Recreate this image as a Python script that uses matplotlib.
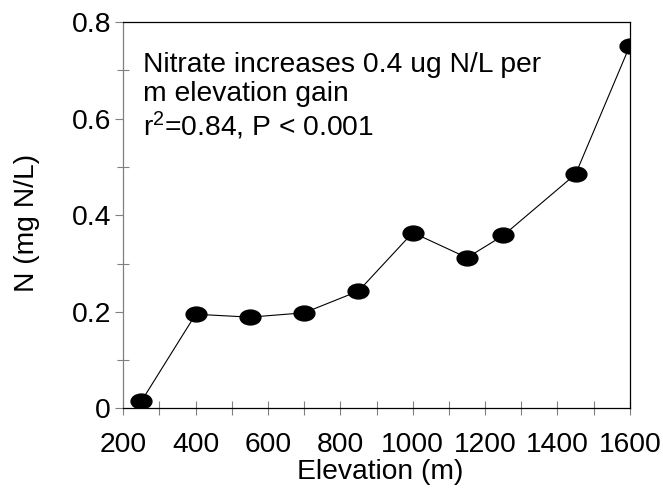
import numpy as np
import matplotlib
matplotlib.use("Agg")
import matplotlib.pyplot as plt
from matplotlib.path import Path
from matplotlib.transforms import Affine2D
from matplotlib.ticker import MultipleLocator

# nitrate along the elevation gradient
elevation = [250, 400, 550, 700, 850, 1000, 1150, 1250, 1450, 1600]
nitrate = [0.015, 0.195, 0.189, 0.198, 0.243, 0.364, 0.312, 0.358, 0.485, 0.751]

x_ticks = [200, 400, 600, 800, 1000, 1200, 1400, 1600]
y_ticks = [0, 0.2, 0.4, 0.6, 0.8]
y_tick_labels = ["0", "0.2", "0.4", "0.6", "0.8"]

note = "Nitrate increases 0.4 ug N/L per\nm elevation gain\nr$^2$=0.84, P < 0.001"

plt.rcParams['font.family'] = ['Liberation Sans', 'DejaVu Sans']
plt.rcParams['mathtext.fontset'] = 'custom'
plt.rcParams['mathtext.rm'] = 'Liberation Sans'
plt.rcParams['mathtext.it'] = 'Liberation Sans'

# flattened dot, a bit wider than tall
oval = Path.unit_circle().transformed(Affine2D().scale(1.4, 1.0))

fig = plt.figure(figsize=(6.63, 4.88), dpi=100)
ax = fig.add_axes([0.186, 0.163, 0.764, 0.792])

ax.plot(elevation, nitrate, color='black', linewidth=0.8,
        marker=oval, markersize=15, markerfacecolor='black', markeredgecolor='black')

ax.set_xlim(200, 1600)
ax.set_ylim(0, 0.8)
ax.set_xticks(x_ticks)
ax.xaxis.set_minor_locator(MultipleLocator(100))
ax.set_yticks(y_ticks)
ax.set_yticklabels(y_tick_labels)
ax.yaxis.set_minor_locator(MultipleLocator(0.1))

ax.tick_params(axis='x', which='both', direction='inout', length=9.4, width=0.8,
               color='#808080', labelsize=20.3, pad=12)
ax.tick_params(axis='y', which='major', direction='out', length=5.8, width=0.8,
               color='#808080', labelsize=20.3, pad=3)
ax.tick_params(axis='y', which='minor', direction='inout', length=8.6, width=0.8,
               color='#808080')

ax.spines['left'].set_color('#808080')
for side in ['bottom', 'top', 'right']:
    ax.spines[side].set_color('black')
for side in ax.spines:
    ax.spines[side].set_linewidth(0.9)

ax.set_xlabel("Elevation (m)", fontsize=20.3)
ax.set_ylabel("N (mg N/L)", fontsize=20.3)
ax.xaxis.set_label_coords(0.507, -0.13)
ax.yaxis.set_label_coords(-0.165, 0.48)

ax.text(254, 0.737, note, fontsize=20.3, va='top', ha='left', linespacing=1.12)

fig.savefig("out.png", dpi=100)
